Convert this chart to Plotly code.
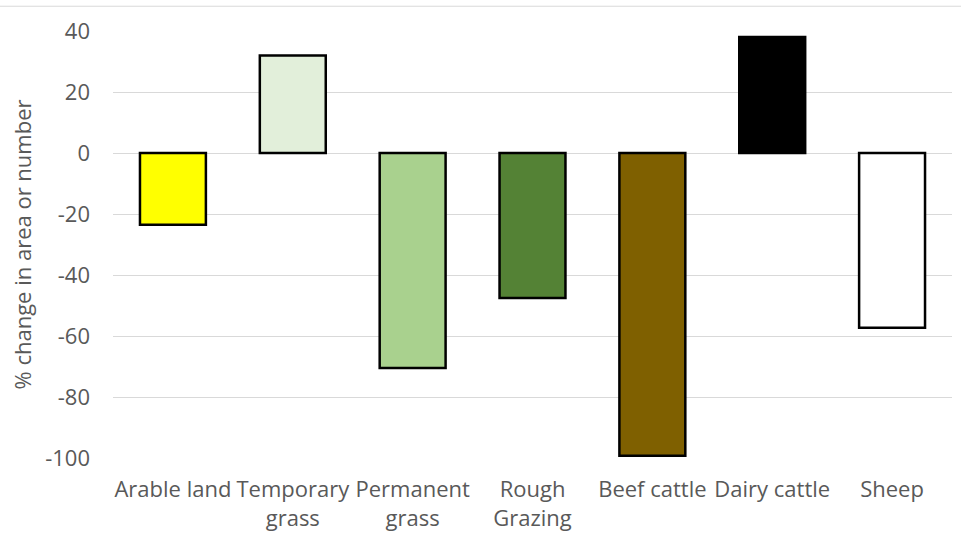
import plotly.graph_objects as go

categories = ["Arable land", "Temporary<br>grass", "Permanent<br>grass", "Rough<br>Grazing",
              "Beef cattle", "Dairy cattle", "Sheep"]
values = [-23.5, 32, -70.5, -47.5, -99.3, 38, -57.3]
colors = ["#FFFF00", "#E2EFDA", "#A9D18E", "#548235", "#7F6000", "#000000", "#FFFFFF"]
y_ticks = [40, 20, 0, -20, -40, -60, -80, -100]
y_tick_text = ["40", "20", "0", "-20", "-40", "-60", "-80", "-100"]

fig = go.Figure()
fig.add_trace(go.Bar(
    x=categories, y=values,
    marker=dict(color=colors, line=dict(color="#000000", width=2.5)),
    width=0.55,
))

font_family = "'Open Sans', sans-serif"
fig.update_layout(
    width=961, height=544,
    margin=dict(l=113, r=9, t=31, b=86),
    plot_bgcolor="white", paper_bgcolor="white",
    showlegend=False,
    font=dict(family=font_family, color="#595959", size=22),
    xaxis=dict(showgrid=False, showline=False, ticks="", tickfont=dict(size=22, color="#595959"),
               ticklabelstandoff=16),
    yaxis=dict(range=[-100, 40], tickvals=y_ticks, ticktext=y_tick_text,
               showgrid=True, gridcolor="#D9D9D9", gridwidth=1,
               zeroline=True, zerolinecolor="#D9D9D9", zerolinewidth=1,
               showline=False, ticks="", tickfont=dict(size=22, color="#595959"),
               ticklabelstandoff=22,
               title=dict(text="% change in area or number", font=dict(size=22, color="#595959"), standoff=7)),
    shapes=[dict(type="line", xref="paper", yref="paper", x0=-0.2, x1=1.02, y0=1.058, y1=1.058,
                 line=dict(color="#D9D9D9", width=1))],
)
fig.write_html("out.html")
